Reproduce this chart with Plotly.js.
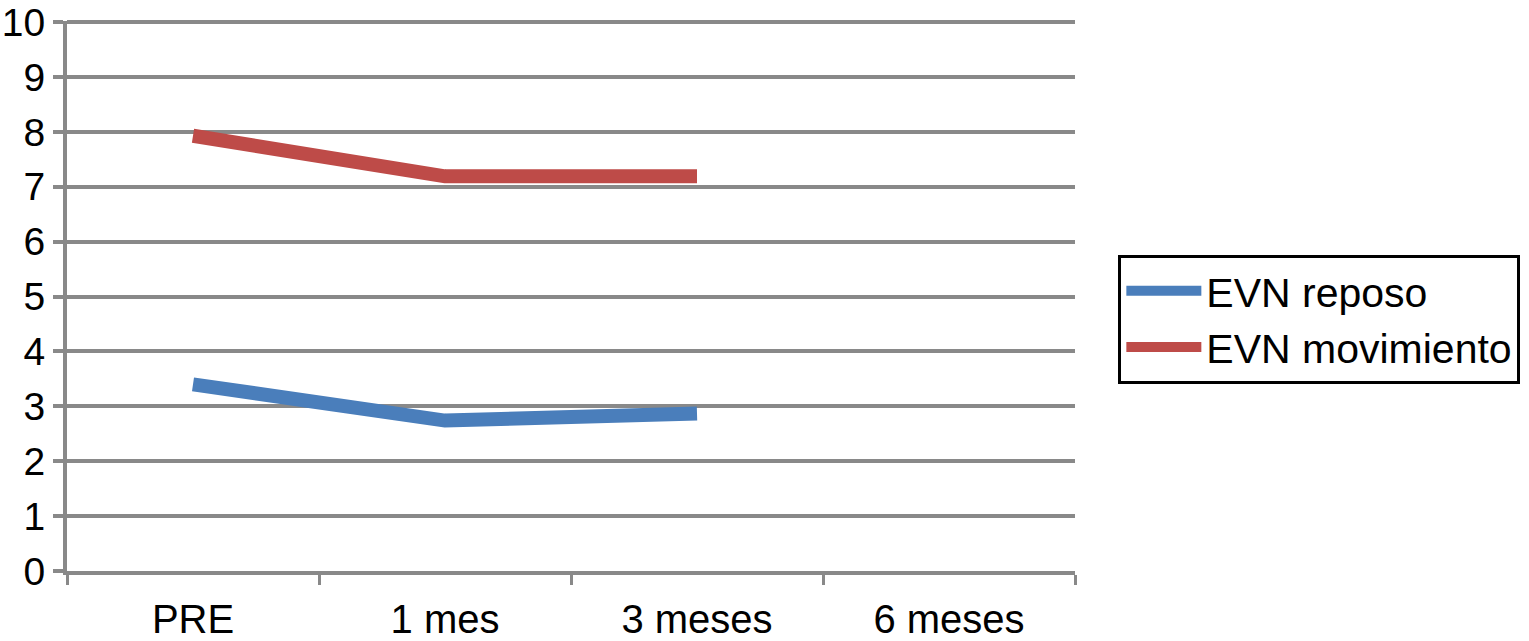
<!DOCTYPE html>
<html>
<head>
<meta charset="utf-8">
<script src="https://cdn.plot.ly/plotly-3.0.1.min.js"></script>
<style>html,body{margin:0;padding:0;background:#fff;}#chart{width:1529px;height:641px;}</style>
</head>
<body>
<div id="chart"></div>
<script>
const categories = ["PRE", "1 mes", "3 meses", "6 meses"];
const reposo = [3.4, 2.74, 2.87, null];
const movimiento = [7.93, 7.19, 7.19, null];
const seriesNames = ["EVN reposo", "EVN movimiento"];
const yTicks = [0,1,2,3,4,5,6,7,8,9,10];

const fontFamily = '"Liberation Sans", Arial, Helvetica, sans-serif';
const gridColor = '#898989';

const traces = [
  {x: categories, y: reposo, name: seriesNames[0], type: 'scatter', mode: 'lines',
   legendgroup: 'a', line: {color: '#4a7ebb', width: 14}, connectgaps: false},
  {x: categories, y: movimiento, name: seriesNames[1], type: 'scatter', mode: 'lines',
   legendgroup: 'b', line: {color: '#be4b48', width: 14}, connectgaps: false}
];

const layout = {
  width: 1529, height: 641,
  margin: {l: 67, r: 454, t: 21, b: 70, pad: 0, autoexpand: false},
  paper_bgcolor: '#fff', plot_bgcolor: '#fff',
  font: {family: fontFamily, color: '#000', size: 40},
  showlegend: true,
  xaxis: {
    type: 'category', categoryorder: 'array', categoryarray: categories,
    range: [-0.5, 3.5], tickson: 'boundaries', ticks: 'outside', ticklen: 10, tickwidth: 3,
    tickcolor: gridColor, showline: true, linecolor: gridColor, linewidth: 4,
    showgrid: false, zeroline: false, fixedrange: true,
    tickfont: {family: fontFamily, size: 40, color: '#000'}, ticklabelstandoff: 10
  },
  yaxis: {
    range: [0, 10.02], tickvals: yTicks, ticktext: yTicks.map(String),
    ticks: 'outside', ticklen: 10, tickwidth: 4, tickcolor: gridColor,
    showline: true, linecolor: gridColor, linewidth: 4,
    showgrid: true, gridcolor: gridColor, gridwidth: 4, zeroline: false,
    tickfont: {family: fontFamily, size: 39, color: '#000'}, ticklabelstandoff: 0,
    ticklabeloverflow: 'allow', fixedrange: true
  },
  legend: {
    x: 1.043, xanchor: 'left', y: 0.458, yanchor: 'middle',
    bordercolor: '#000', borderwidth: 3, bgcolor: '#fff',
    font: {family: fontFamily, size: 41, color: '#000'},
    itemwidth: 75, tracegroupgap: 3, traceorder: 'normal'
  }
};

Plotly.newPlot('chart', traces, layout, {displayModeBar: false, staticPlot: true});
</script>
</body>
</html>
